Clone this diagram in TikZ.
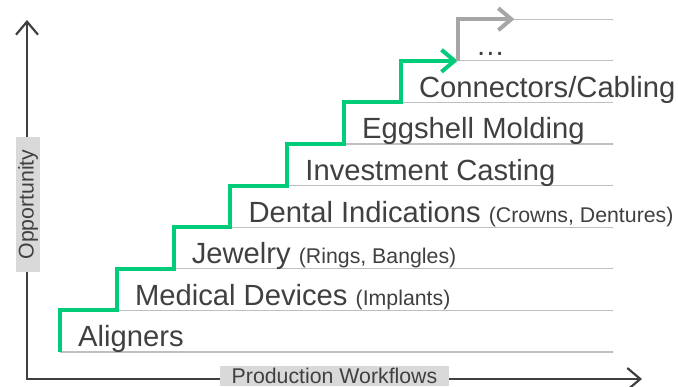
\documentclass[tikz,border=0pt]{standalone}
\usepackage{fontspec}
\setmainfont{Liberation Sans}
\usetikzlibrary{arrows.meta}

\definecolor{stepgreen}{RGB}{0,204,122}
\definecolor{axisgray}{RGB}{64,64,64}
\definecolor{rowgray}{RGB}{191,191,191}
\definecolor{nextgray}{RGB}{166,166,166}
\definecolor{boxgray}{RGB}{217,217,217}

\newcommand\notefont{\fontsize{21.3}{24}\selectfont}

\tikzset{
  axisline/.style={draw=axisgray, line width=2.2pt, line join=miter},
  rowline/.style={draw=rowgray, line width=1.2pt},
  stepline/.style={draw=stepgreen, line width=4pt, line join=miter},
  nextline/.style={draw=nextgray, line width=4pt, line join=miter},
  axislabel/.style={fill=boxgray, text=axisgray, font=\notefont,
    inner xsep=12pt, inner ysep=2.2pt},
  steplabel/.style={text=axisgray, font=\fontsize{29.2}{33}\selectfont,
    anchor=base west, inner sep=0pt}
}

\begin{document}
\begin{tikzpicture}[x=1pt, y=-1pt, >={Straight Barb[length=13pt,width=22pt]}]
    \useasboundingbox (0,0) rectangle (678,387);

      % Define step size
      \def\dx{56.8}
      \def\dy{41.6}

      % Corners of the stairs
      \foreach \k in {0,...,8} {
        \coordinate (s\k) at ({60+\dx*\k},{352-\dy*\k});
      }
      \coordinate (rend) at (613,0);
      \coordinate (origin) at (27,379);
      \coordinate (ytip) at (27,20);
      \coordinate (xtip) at (642,379);

      % Draw the rows
      \foreach \k in {0,...,8} {
        \draw[rowline] (s\k) -- (s\k -| rend);
      }

      % Draw the stairs
      \draw[stepline,->] (s0) |- (s1) |- (s2) |- (s3) |- (s4) |- (s5) |- (s6) |- (s7);
      \draw[nextline,->] (s7) |- (s8);

      % Labels on the steps
      \node[steplabel] (aligners) at ([shift={(18,-5)}]s0) {Aligners};
      \node[steplabel] (medical) at ([shift={(18,-5)}]s1) {Medical Devices {\notefont(Implants)}};
      \node[steplabel] (jewelry) at ([shift={(18,-5)}]s2) {Jewelry {\notefont(Rings, Bangles)}};
      \node[steplabel] (dental) at ([shift={(18,-5)}]s3) {Dental Indications {\notefont(Crowns, Dentures)}};
      \node[steplabel] (casting) at ([shift={(18,-5)}]s4) {Investment Casting};
      \node[steplabel] (eggshell) at ([shift={(18,-5)}]s5) {Eggshell Molding};
      \node[steplabel] (cabling) at ([shift={(18,-5)}]s6) {Connectors/Cabling};
      \node[steplabel] (more) at ([shift={(18,-5)}]s7) {…};

      % Axes
      \draw[axisline,<->] (ytip) -- (origin) -- (xtip);
      \node[axislabel, rotate=90] (ylab) at (28,204.5) {Opportunity};
      \node[axislabel, anchor=base] (xlab) at (334.5,384) {Production Workflows};
    \end{tikzpicture}
\end{document}
